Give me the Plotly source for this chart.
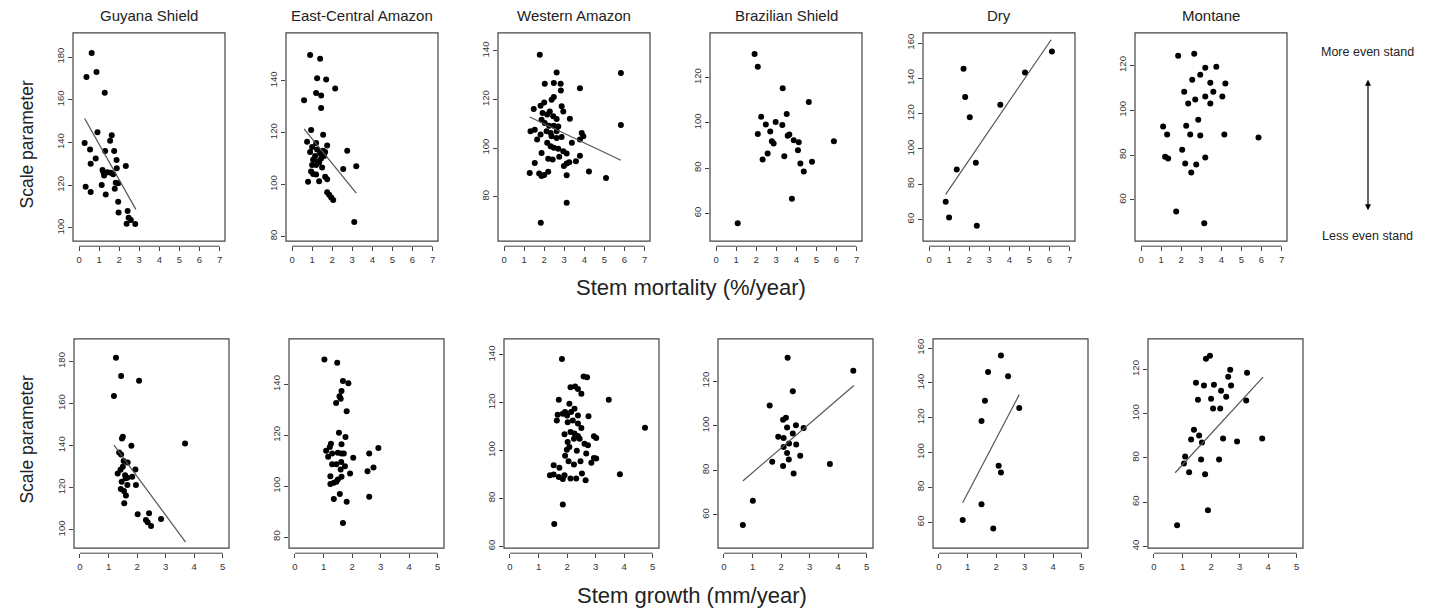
import plotly.graph_objects as go

W, H = 1433, 613

region_names = ["Guyana Shield", "East-Central Amazon", "Western Amazon",
                "Brazilian Shield", "Dry", "Montane"]

# ---------------- Stem mortality (%/year) vs scale parameter ----------------
gs_mort_x = [0.63, 0.37, 0.87, 1.28, 0.92, 0.28, 0.55, 1.63, 1.55, 1.30, 1.75, 0.83, 0.58, 1.87,
             2.33, 1.17, 1.22, 1.25, 1.42, 1.58, 1.70, 1.88, 1.83, 1.95, 1.78, 0.33, 1.13, 0.58,
             1.33, 1.95, 1.97, 2.42, 2.47, 2.58, 2.37, 2.80]
gs_mort_y = [181.9, 170.7, 173.0, 163.3, 144.8, 139.8, 136.7, 143.4, 140.8, 136.0, 136.0, 132.5, 130.0, 131.8,
             129.0, 127.1, 126.1, 124.6, 126.1, 125.8, 125.1, 127.9, 121.2, 120.9, 118.4, 119.3, 120.1, 116.8,
             115.7, 112.3, 107.2, 107.9, 104.8, 103.7, 102.0, 101.9]
gs_mort_fit_x = [0.28, 2.83]
gs_mort_fit_y = [151.2, 108.7]

eca_mort_x = [0.90, 1.40, 1.25, 1.70, 2.15, 1.20, 1.45, 0.60, 1.45, 0.95, 1.55, 0.75, 1.20, 1.00, 1.25,
              1.75, 1.55, 1.65, 1.40, 1.15, 0.90, 1.05, 1.30, 1.45, 1.60, 1.35, 1.20, 1.00, 1.50, 0.95,
              1.05, 1.20, 1.65, 1.75, 0.80, 1.35, 1.75, 1.85, 1.95, 2.05, 2.75, 2.55, 3.20, 3.10]
eca_mort_y = [150.0, 148.5, 141.0, 140.5, 137.0, 135.3, 134.3, 132.5, 129.5, 121.0, 119.2, 116.5, 116.0, 114.5, 113.5,
              115.0, 113.0, 112.5, 112.0, 111.0, 112.5, 109.5, 109.0, 110.0, 111.0, 108.5, 107.5, 107.5, 106.5, 105.0,
              104.0, 103.8, 103.0, 102.0, 101.0, 101.2, 97.0, 96.0, 95.0, 94.0, 113.0, 106.0, 107.0, 85.5]
eca_mort_fit_x = [0.60, 3.20]
eca_mort_fit_y = [121.5, 96.7]

wa_mort_x = [1.78, 2.62, 2.03, 2.48, 2.82, 2.83, 3.78, 2.48, 2.37, 2.00, 1.82, 1.48, 2.87, 2.95, 3.28,
             1.92, 2.15, 2.28, 2.45, 2.62, 1.87, 2.03, 2.25, 2.48, 2.70, 1.32, 1.53, 1.82, 2.12, 2.32,
             2.62, 2.37, 2.62, 2.87, 3.87, 3.95, 3.78, 3.38, 1.65, 2.15, 2.32, 2.48, 2.70, 2.95, 1.87,
             3.12, 3.78, 2.75, 2.20, 2.42, 1.53, 3.58, 3.12, 3.25, 2.98, 1.28, 1.75, 1.87, 2.00, 2.20,
             3.12, 4.23, 5.08, 3.12, 1.83, 5.82, 5.82]
wa_mort_y = [138.4, 131.1, 126.5, 126.8, 126.5, 123.7, 124.6, 121.0, 119.9, 118.8, 117.4, 116.1, 117.2, 115.1, 112.1,
             114.4, 113.8, 115.1, 113.1, 112.0, 111.7, 110.3, 109.2, 109.2, 108.9, 106.9, 107.6, 105.6, 106.9, 106.2,
             106.9, 104.9, 104.2, 104.6, 106.2, 104.9, 103.5, 102.2, 103.5, 102.2, 100.8, 100.1, 99.7, 98.7, 98.0,
             97.8, 96.9, 96.4, 95.6, 95.3, 93.9, 94.6, 93.7, 94.2, 92.6, 89.8, 89.6, 88.5, 88.9, 90.3,
             88.8, 90.4, 87.7, 77.5, 69.3, 130.9, 109.5]
wa_mort_fit_x = [1.28, 5.82]
wa_mort_fit_y = [112.8, 95.0]

bs_mort_x = [1.92, 2.08, 3.32, 2.25, 2.48, 2.97, 3.30, 3.52, 2.08, 2.70, 3.57, 3.65, 2.78, 2.87, 3.87,
             4.12, 3.40, 2.57, 2.32, 3.78, 1.08, 4.62, 4.08, 4.20, 4.78, 4.37, 5.87]
bs_mort_y = [130.4, 124.7, 115.3, 102.7, 99.2, 100.3, 99.0, 103.9, 95.1, 96.2, 94.3, 94.8, 91.8, 90.8, 92.3,
             91.4, 85.2, 86.4, 83.8, 66.5, 55.6, 109.2, 87.9, 82.0, 82.8, 78.5, 91.8]

dry_mort_x = [0.83, 1.00, 1.38, 1.72, 1.80, 2.03, 2.33, 2.38, 3.55, 4.78, 6.12]
dry_mort_y = [70.0, 61.1, 88.4, 145.5, 129.5, 118.0, 92.2, 56.4, 125.1, 143.4, 155.3]
dry_mort_fit_x = [0.83, 6.08]
dry_mort_fit_y = [74.3, 161.9]

mon_mort_x = [1.85, 2.65, 3.75, 3.20, 2.95, 2.55, 2.15, 3.45, 4.20, 3.60, 3.20, 4.05, 3.45, 2.35, 2.70,
              1.10, 1.30, 2.45, 2.95, 4.15, 2.85, 2.25, 2.05, 1.20, 1.35, 3.20, 2.75, 2.20, 2.50, 5.85,
              1.75, 3.15]
mon_mort_y = [124.3, 125.2, 119.4, 118.9, 115.8, 113.6, 108.3, 112.3, 111.9, 108.3, 106.1, 106.1, 103.0, 103.0, 104.8,
              92.7, 89.2, 89.2, 88.7, 89.2, 95.8, 93.1, 82.4, 79.3, 78.5, 78.9, 75.8, 76.2, 72.2, 87.9,
              54.9, 49.6]

# ---------------- Stem growth (mm/year) vs scale parameter ----------------
gs_grow_x = [1.26, 1.44, 2.07, 1.19, 1.50, 1.47, 1.80, 3.68, 1.37, 1.44, 1.53, 1.67, 1.50, 1.94, 1.32,
             1.58, 1.66, 1.83, 1.46, 1.66, 1.96, 1.43, 1.54, 1.61, 1.55, 2.02, 2.42, 2.31, 2.37, 2.49,
             2.84, 1.42, 1.60]
gs_grow_y = [181.7, 173.1, 170.8, 163.6, 144.2, 143.4, 139.9, 141.0, 136.8, 135.8, 132.7, 132.0, 130.0, 128.7, 126.8,
             126.0, 124.8, 125.2, 122.9, 121.3, 121.3, 119.4, 118.5, 116.3, 112.6, 107.4, 107.9, 104.7, 103.6, 101.9,
             105.2, 128.5, 124.5]
gs_grow_fit_x = [1.19, 3.70]
gs_grow_fit_y = [140.2, 94.2]

eca_grow_x = [1.03, 1.48, 1.68, 1.87, 1.63, 1.56, 1.60, 1.44, 1.81, 1.54, 1.77, 1.26, 1.63, 1.22, 1.09,
              1.16, 1.30, 1.50, 1.63, 1.71, 2.04, 2.60, 2.92, 1.30, 1.45, 1.62, 1.75, 1.60, 2.75, 2.54,
              1.93, 1.24, 1.63, 1.50, 1.45, 1.36, 1.24, 1.57, 1.36, 2.60, 1.81, 1.68]
eca_grow_y = [149.8, 148.5, 141.3, 140.5, 137.4, 135.3, 134.4, 132.7, 129.4, 121.0, 119.3, 116.7, 116.5, 115.4, 113.9,
              111.6, 112.8, 113.1, 112.8, 112.8, 111.2, 112.8, 115.0, 108.6, 108.6, 109.5, 107.8, 106.5, 107.3, 105.9,
              105.0, 103.9, 103.7, 102.6, 101.7, 101.3, 100.8, 96.9, 94.9, 95.8, 93.9, 85.5]

wa_grow_x = [1.82, 2.58, 2.70, 2.12, 2.28, 2.38, 2.50, 1.71, 3.46, 2.08, 1.67, 1.85, 1.93, 2.00, 2.14,
             2.26, 2.38, 2.75, 1.64, 2.02, 2.20, 2.38, 2.50, 1.91, 2.12, 2.26, 2.38, 2.24, 2.44, 2.94,
             3.02, 2.02, 2.61, 2.73, 2.08, 1.99, 2.34, 2.67, 1.93, 2.94, 3.02, 2.85, 2.47, 2.05, 2.24,
             1.53, 1.73, 1.40, 1.53, 2.52, 1.71, 1.91, 1.85, 2.12, 2.32, 2.65, 1.85, 1.55, 3.85, 4.73]
wa_grow_y = [138.3, 131.0, 130.7, 126.5, 126.8, 125.8, 123.8, 121.3, 121.3, 119.6, 115.0, 115.4, 116.1, 114.7, 116.1,
             117.5, 114.7, 114.4, 112.6, 111.9, 112.6, 111.3, 109.4, 106.8, 107.8, 107.1, 106.1, 105.0, 105.0, 106.0,
             105.3, 103.6, 102.9, 102.2, 101.5, 100.4, 99.9, 98.8, 97.8, 96.9, 96.7, 94.9, 95.6, 95.6, 94.2,
             93.9, 92.8, 89.7, 90.0, 90.4, 89.0, 89.7, 88.1, 88.3, 88.3, 87.6, 77.5, 69.3, 90.1, 109.6]

bs_grow_x = [2.23, 2.41, 1.60, 2.07, 2.17, 2.21, 2.52, 2.41, 1.90, 2.09, 2.28, 2.53, 2.09, 2.21, 1.69,
             2.27, 2.07, 2.44, 1.01, 0.66, 4.53, 2.79, 2.67, 3.71]
bs_grow_y = [130.4, 115.4, 109.1, 102.7, 103.6, 99.2, 100.2, 96.5, 95.0, 94.5, 92.0, 91.6, 90.5, 87.8, 83.8,
             84.9, 81.9, 78.6, 66.4, 55.5, 124.6, 99.0, 86.5, 82.8]
bs_grow_fit_x = [0.66, 4.55]
bs_grow_fit_y = [75.2, 118.0]

dry_grow_x = [2.17, 1.72, 2.42, 1.61, 2.81, 1.49, 2.09, 2.17, 1.49, 0.83, 1.90]
dry_grow_y = [155.8, 146.3, 143.8, 129.8, 125.6, 118.2, 92.5, 88.6, 70.3, 61.3, 56.4]
dry_grow_fit_x = [0.83, 2.81]
dry_grow_fit_y = [71.2, 133.3]

mon_grow_x = [1.82, 1.96, 2.67, 2.60, 3.26, 1.47, 1.75, 2.10, 2.35, 2.70, 2.00, 1.54, 2.53, 3.23, 2.07,
              2.32, 1.40, 1.58, 1.30, 1.68, 2.42, 2.91, 3.79, 1.65, 1.09, 1.05, 1.23, 1.79, 2.28, 1.89,
              0.81]
mon_grow_y = [124.8, 126.2, 119.9, 116.7, 118.5, 114.0, 112.7, 113.1, 110.4, 112.7, 106.8, 106.3, 107.7, 105.9, 102.3,
              102.3, 92.7, 90.1, 88.3, 87.0, 88.8, 87.4, 88.8, 79.3, 80.6, 77.5, 73.5, 72.6, 79.3, 56.4,
              49.6]
mon_grow_fit_x = [0.74, 3.82]
mon_grow_fit_y = [73.3, 116.5]

# tick values
mort_xticks = [0, 1, 2, 3, 4, 5, 6, 7]
grow_xticks = [0, 1, 2, 3, 4, 5]
yticks_gs = [100, 120, 140, 160, 180]
yticks_eca = [80, 100, 120, 140]
yticks_wa = [60, 80, 100, 120, 140]
yticks_bs = [60, 80, 100, 120]
yticks_dry = [60, 80, 100, 120, 140, 160]
yticks_mon = [40, 60, 80, 100, 120]

# ---------------- layout geometry (pixels) ----------------
top_lefts = [73, 286, 498, 710, 923, 1135]
top_w = 152
top_y0, top_y1 = 33, 242
bot_lefts = [74, 289, 504, 718, 933, 1148]
bot_w = 155
bot_y0, bot_y1 = 340, 550

top_yranges = [[93.8, 191.3], [78.1, 158.5], [61.7, 147.4], [47.7, 139.7], [47.7, 165.8], [41.6, 134.5]]
bot_yranges = [[91.3, 190.7], [75.6, 157.9], [59.2, 146.7], [45.1, 138.9], [45.1, 165.3], [39.2, 133.8]]

mort_panels = [
    (gs_mort_x, gs_mort_y, gs_mort_fit_x, gs_mort_fit_y, yticks_gs),
    (eca_mort_x, eca_mort_y, eca_mort_fit_x, eca_mort_fit_y, yticks_eca),
    (wa_mort_x, wa_mort_y, wa_mort_fit_x, wa_mort_fit_y, yticks_wa),
    (bs_mort_x, bs_mort_y, None, None, yticks_bs),
    (dry_mort_x, dry_mort_y, dry_mort_fit_x, dry_mort_fit_y, yticks_dry),
    (mon_mort_x, mon_mort_y, None, None, yticks_mon),
]
grow_panels = [
    (gs_grow_x, gs_grow_y, gs_grow_fit_x, gs_grow_fit_y, yticks_gs),
    (eca_grow_x, eca_grow_y, None, None, yticks_eca),
    (wa_grow_x, wa_grow_y, None, None, yticks_wa),
    (bs_grow_x, bs_grow_y, bs_grow_fit_x, bs_grow_fit_y, yticks_bs),
    (dry_grow_x, dry_grow_y, dry_grow_fit_x, dry_grow_fit_y, yticks_dry),
    (mon_grow_x, mon_grow_y, mon_grow_fit_x, mon_grow_fit_y, yticks_mon),
]

FONT = "Liberation Sans, Arial, sans-serif"
AXC = "#444444"
TXT = "#222222"

fig = go.Figure()
layout = dict(width=W, height=H, margin=dict(l=0, r=0, t=0, b=0),
              paper_bgcolor="white", plot_bgcolor="white", showlegend=False,
              font=dict(family=FONT, color=TXT))
shapes = []
annotations = []


def px_x(p):
    return p / W


def px_y(p):
    return 1 - p / H


def label(text, x, y, size, angle=0):
    return dict(text=text, x=px_x(x), y=px_y(y), xref="paper", yref="paper",
                showarrow=False, textangle=angle, xanchor="center", yanchor="middle",
                font=dict(size=size, color=TXT))


def add_panel(n, pts, left, width, y0, y1, xr, xticks, yr):
    xs, ys, fx, fy, yt = pts
    xa = "x" if n == 1 else f"x{n}"
    ya = "y" if n == 1 else f"y{n}"
    xkey = "xaxis" if n == 1 else f"xaxis{n}"
    ykey = "yaxis" if n == 1 else f"yaxis{n}"
    x_axis_pos = px_y(y1 + 5)
    layout[xkey] = dict(domain=[px_x(left), px_x(left + width)], range=xr,
                        anchor="free", position=x_axis_pos,
                        tickmode="array", tickvals=xticks, ticks="outside", ticklen=4,
                        tickcolor=AXC, showgrid=False, zeroline=False, showline=False,
                        tickfont=dict(size=9.5, color="#333333"))
    layout[ykey] = dict(domain=[px_y(y1), px_y(y0)], range=yr, anchor=xa,
                        tickmode="array", tickvals=yt, ticks="outside", ticklen=4,
                        tickcolor=AXC, tickangle=-90, showgrid=False, zeroline=False,
                        showline=False, tickfont=dict(size=9.5, color="#333333"))
    shapes.append(dict(type="rect", xref=f"{xa} domain", yref=f"{ya} domain",
                       x0=0, x1=1, y0=0, y1=1, line=dict(color=AXC, width=1.2)))
    shapes.append(dict(type="line", xref=xa, yref="paper", x0=xticks[0], x1=xticks[-1],
                       y0=x_axis_pos, y1=x_axis_pos, line=dict(color=AXC, width=1)))
    fig.add_trace(go.Scatter(x=xs, y=ys, mode="markers", xaxis=xa, yaxis=ya,
                             marker=dict(color="black", size=6, line=dict(width=0)),
                             hoverinfo="skip"))
    if fx is not None:
        fig.add_trace(go.Scatter(x=fx, y=fy, mode="lines", xaxis=xa, yaxis=ya,
                                 line=dict(color="#555555", width=1.2), hoverinfo="skip"))


for i in range(6):
    add_panel(i + 1, mort_panels[i], top_lefts[i], top_w, top_y0, top_y1,
              [-0.3, 7.27], mort_xticks, top_yranges[i])
    annotations.append(label(region_names[i], top_lefts[i] + top_w / 2, 16, 15))
for i in range(6):
    add_panel(i + 7, grow_panels[i], bot_lefts[i], bot_w, bot_y0, bot_y1,
              [-0.21, 5.22], grow_xticks, bot_yranges[i])

annotations += [
    label("Scale parameter", 27, 145, 17.5, -90),
    label("Scale parameter", 27, 441, 17.5, -90),
    label("Stem mortality (%/year)", 691, 288, 22),
    label("Stem growth (mm/year)", 692, 597, 22),
    label("More even stand", 1367, 52, 12.5),
    label("Less even stand", 1367, 237, 12.5),
    dict(text="", x=px_x(1368), y=px_y(80), ax=0, ay=132, xref="paper", yref="paper",
         showarrow=True, arrowhead=2, startarrowhead=2, arrowside="end+start",
         arrowsize=1, arrowwidth=1.2, arrowcolor="black"),
]

layout["shapes"] = shapes
layout["annotations"] = annotations
fig.update_layout(**layout)
fig.write_html("out.html")
